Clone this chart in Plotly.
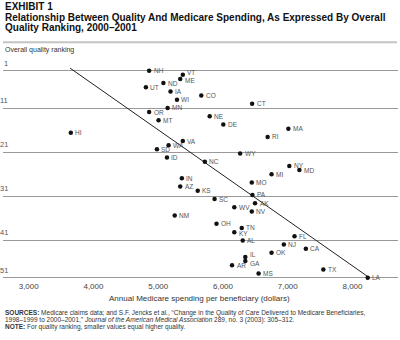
import plotly.graph_objects as go

states = ["NH","VT","ME","ND","UT","IA","CO","WI","CT","MN","OR","NE","MT","DE","MA","HI","RI",
          "VA","WA","SD","WY","ID","NC","NY","MD","MI","IN","MO","AZ","KS","PA","SC","AK","WV",
          "NV","NM","OH","TN","KY","FL","AL","NJ","CA","OK","IL","GA","AR","TX","MS","LA"]
spending = [4860,5380,5340,5080,4810,5190,5665,5290,6450,5145,4860,5795,5005,6005,7010,3650,6690,
            5380,5160,4980,6265,5135,5720,7025,7180,6750,5365,6445,5340,5610,6455,5870,6495,6175,
            6445,5255,5900,6290,6175,7105,6305,6940,7280,6750,6345,6345,6140,7550,6550,8235]
rank = [1,2,3,4,5,6,7,8,9,10,11,12,13,14,15,16,17,
        18,19,20,21,22,23,24,25,26,27,28,29,30,31,32,33,34,
        35,36,38,39,40,41,42,43,44,45,46,47,48,49,50,51]

trend_x = [3640, 8270]
trend_y = [0.4, 51.1]

x_tick_vals = [3000, 4000, 5000, 6000, 7000, 8000]
x_tick_text = ["3,000", "4,000", "5,000", "6,000", "7,000", "8,000"]
grid_ranks = [1, 10.1, 20.7, 31.3, 41.9, 51]
grid_labels = ["1", "11", "21", "31", "41", "51"]

# small label nudges (pixels) to limit collisions between close neighbours
label_dy = {"VT": 2, "ME": -1.5, "IL": 2, "GA": -2, "TN": 1, "KY": -1}

W, H = 400, 340
L, R, T, B = 3, 2, 60, 60
PW, PH = W - L - R, H - T - B

def py(p):
    return (H - B - p) / PH

def pxx(p):
    return (p - L) / PW

FONT = "Liberation Sans"
fig = go.Figure()

fig.add_trace(go.Scatter(x=trend_x, y=trend_y, mode="lines",
                         line=dict(color="#222222", width=1), hoverinfo="skip"))
fig.add_trace(go.Scatter(x=spending, y=rank, mode="markers", text=states,
                         marker=dict(color="#111111", size=4.5)))

ann = []
for s, xv, yv in zip(states, spending, rank):
    ann.append(dict(x=xv, y=yv, xref="x", yref="y", text=s, showarrow=False,
                    xanchor="left", yanchor="middle", xshift=2.5, yshift=label_dy.get(s, 0),
                    font=dict(family=FONT, size=6.5, color="#555555")))

for r, lab in zip(grid_ranks, grid_labels):
    ann.append(dict(x=pxx(10), xref="paper", y=r, yref="y", text=lab, showarrow=False,
                    xanchor="right", yanchor="bottom", yshift=1,
                    font=dict(family=FONT, size=7.5, color="#555555")))

TS = 10
ann.append(dict(x=pxx(3), y=py(7), xref="paper", yref="paper", text="<b>EXHIBIT 1</b>",
                showarrow=False, xanchor="left", yanchor="middle",
                font=dict(family=FONT, size=TS, color="#111111")))
ann.append(dict(x=pxx(3), y=py(17.5), xref="paper", yref="paper",
                text="<b>Relationship Between Quality And Medicare Spending, As Expressed By Overall</b>",
                showarrow=False, xanchor="left", yanchor="middle",
                font=dict(family=FONT, size=TS, color="#111111")))
ann.append(dict(x=pxx(3), y=py(28), xref="paper", yref="paper",
                text="<b>Quality Ranking, 2000–2001</b>",
                showarrow=False, xanchor="left", yanchor="middle",
                font=dict(family=FONT, size=TS, color="#111111")))
ann.append(dict(x=pxx(3), y=py(49.5), xref="paper", yref="paper",
                text="Overall quality ranking", showarrow=False, xanchor="left", yanchor="middle",
                font=dict(family=FONT, size=7, color="#333333")))
ann.append(dict(x=pxx(199), y=py(298), xref="paper", yref="paper",
                text="Annual Medicare spending per beneficiary (dollars)", showarrow=False,
                xanchor="center", yanchor="middle",
                font=dict(family=FONT, size=8, color="#333333")))
foot = [
    "<b>SOURCES:</b> Medicare claims data; and S.F. Jencks et al., “Change in the Quality of Care Delivered to Medicare Beneficiaries,",
    "1998–1999 to 2000–2001,” <i>Journal of the American Medical Association</i> 289, no. 3 (2003): 305–312.",
    "<b>NOTE:</b> For quality ranking, smaller values equal higher quality.",
]
for i, line in enumerate(foot):
    ann.append(dict(x=pxx(3), y=py(313.3 + 6.7 * i), xref="paper", yref="paper", text=line,
                    showarrow=False, xanchor="left", yanchor="middle",
                    font=dict(family=FONT, size=6.5, color="#333333")))

fig.update_layout(
    width=W, height=H, margin=dict(l=L, r=R, t=T, b=B),
    paper_bgcolor="white", plot_bgcolor="white", showlegend=False,
    annotations=ann,
    shapes=[dict(type="line", xref="paper", yref="paper", x0=pxx(3), x1=pxx(397),
                 y0=py(42.3), y1=py(42.3), line=dict(color="#c4c4c4", width=2))],
    xaxis=dict(range=[2603, 8703], tickvals=x_tick_vals, ticktext=x_tick_text,
               showgrid=False, zeroline=False, showline=False, ticks="",
               tickfont=dict(family=FONT, size=8, color="#444444")),
    yaxis=dict(range=[51.56, -1.58], tickvals=grid_ranks, showticklabels=False,
               showgrid=True, gridcolor="#999999", gridwidth=1, zeroline=False,
               showline=False, ticks=""),
)
fig.write_html("out.html")
